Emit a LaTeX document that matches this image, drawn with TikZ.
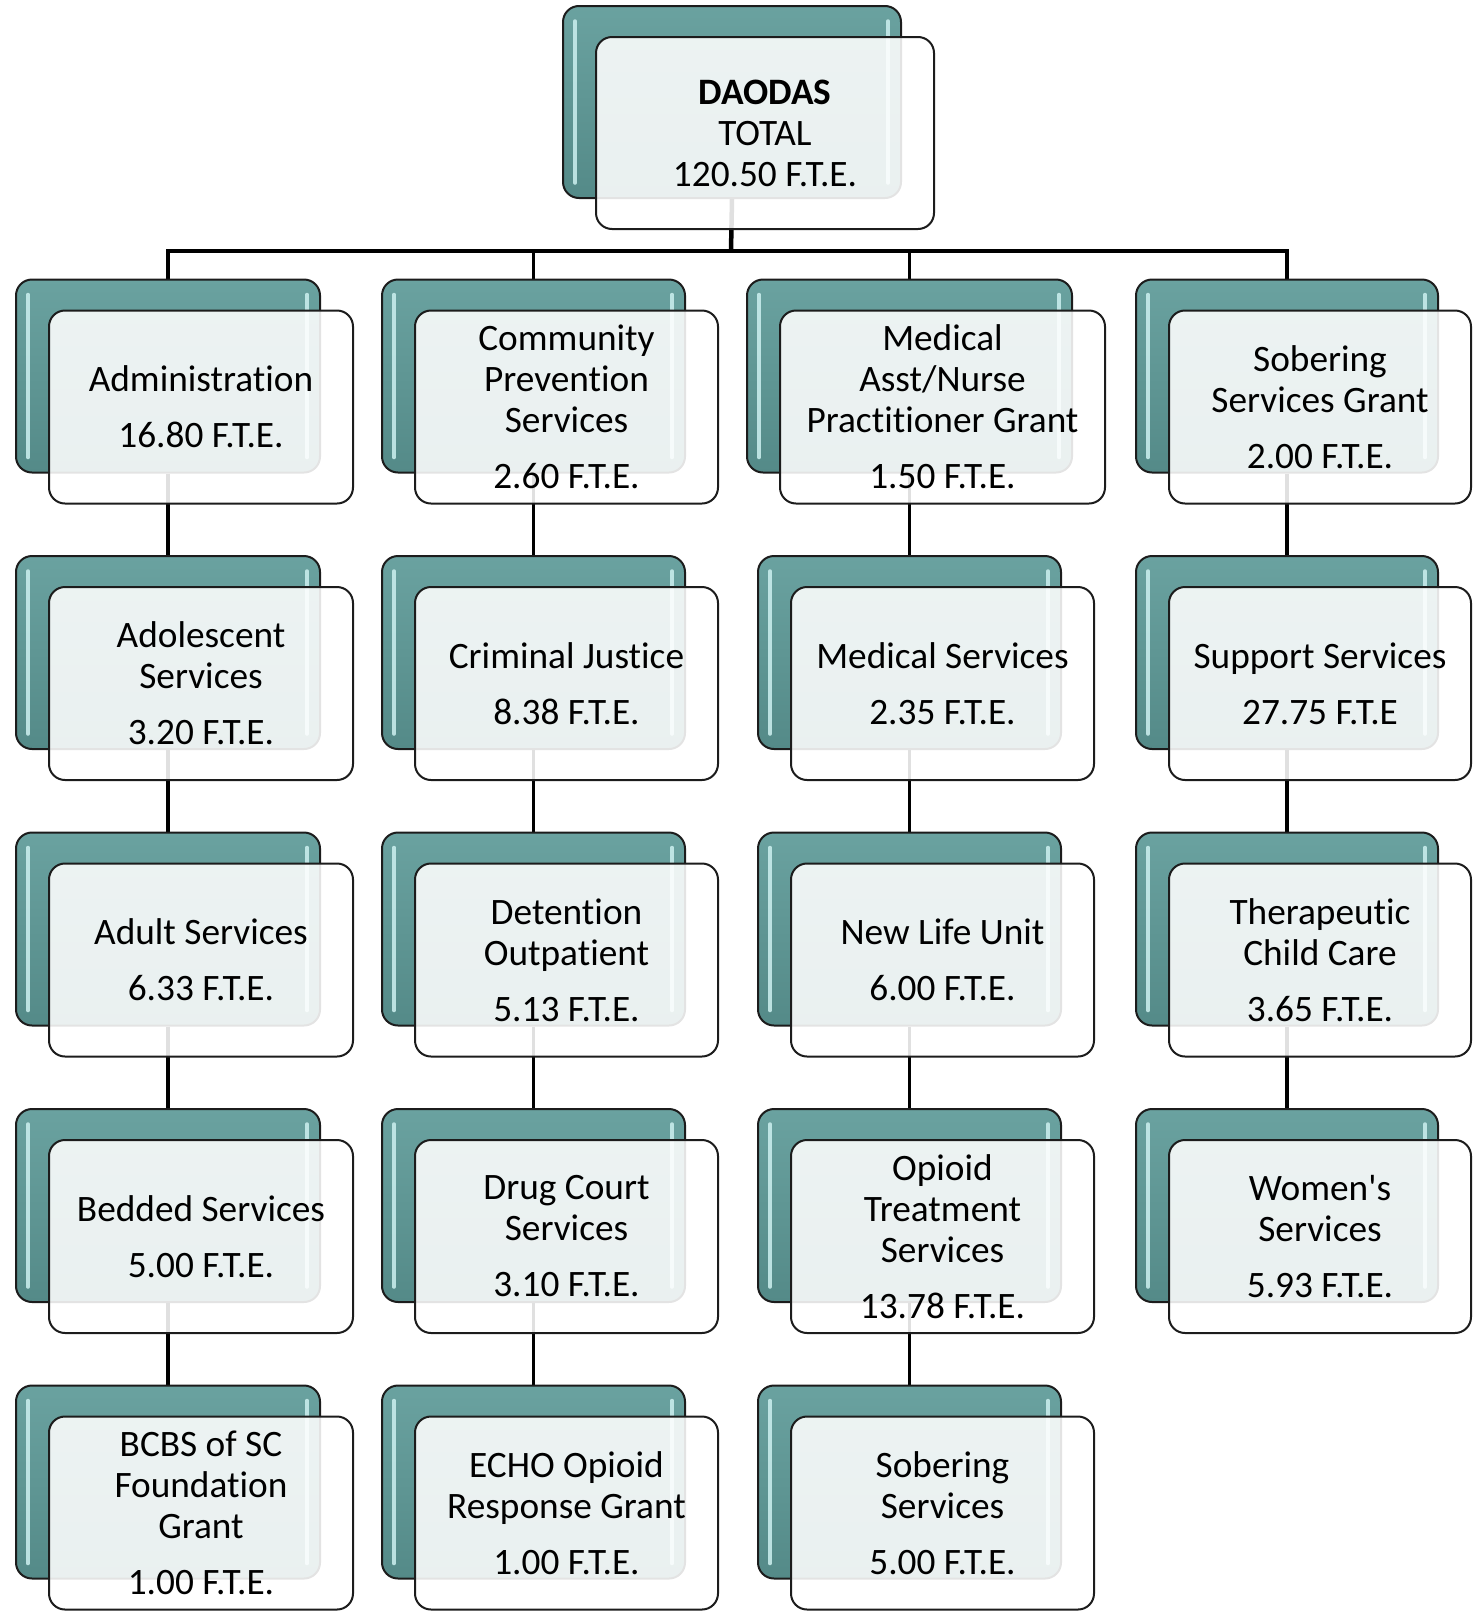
\documentclass[tikz,border=0pt]{standalone}
\usepackage{fontspec}
\newfontfamily\carl{Carlito}[Ligatures=NoCommon]
\usetikzlibrary{backgrounds}
\definecolor{tealA}{RGB}{106,162,160}
\definecolor{tealB}{RGB}{84,138,136}
\definecolor{edgec}{RGB}{28,28,28}
\definecolor{hlc}{RGB}{205,240,240}
\tikzset{
  backbox/.style={draw=edgec, line width=2pt, rounded corners=16pt,
    top color=tealA, bottom color=tealB, inner sep=0pt, anchor=north west,
    path picture={
      \draw[hlc, line width=3.5pt, line cap=round, opacity=0.85]
        ([xshift=12pt,yshift=-15pt]path picture bounding box.north west) --
        ([xshift=12pt,yshift=15pt]path picture bounding box.south west);
      \draw[hlc, line width=3.5pt, line cap=round, opacity=0.85]
        ([xshift=-13pt,yshift=-15pt]path picture bounding box.north east) --
        ([xshift=-13pt,yshift=15pt]path picture bounding box.south east);
    }},
  frontbox/.style={draw=edgec, line width=2pt, rounded corners=16pt,
    fill=white, fill opacity=0.88, text opacity=1, inner sep=0pt,
    anchor=north west, align=center,
    font=\carl\fontsize{37.3}{41}\selectfont},
  conn/.style={draw=black, line width=3.5pt}
}
\newcommand\orgbx[6]{%
  \node[backbox, minimum width=#4pt, minimum height=#5pt] (#1b) at (#2,#3) {};
  \node[frontbox, minimum width=#4pt, minimum height=#5pt] (#1)
     at ([xshift=33pt,yshift=-31pt]#1b.north west) {#6};
}
\begin{document}
\begin{tikzpicture}[x=1pt,y=-1pt]
\useasboundingbox (0,0) rectangle (1477,1612);
% top
\orgbx{T}{562}{5}{338}{192}{\textbf{DAODAS}\\TOTAL\\120.50 F.T.E.}
% column 1
\orgbx{A1}{15}{278.5}{304}{193}{Administration\\[15pt]16.80 F.T.E.}
\orgbx{A2}{15}{555}{304}{193}{Adolescent\\Services\\[15pt]3.20 F.T.E.}
\orgbx{A3}{15}{831.5}{304}{193}{Adult Services\\[15pt]6.33 F.T.E.}
\orgbx{A4}{15}{1108}{304}{193}{Bedded Services\\[15pt]5.00 F.T.E.}
\orgbx{A5}{15}{1384.5}{304}{193}{BCBS of SC\\Foundation\\Grant\\[15pt]1.00 F.T.E.}
% column 2
\orgbx{B1}{381}{278.5}{303}{193}{Community\\Prevention\\Services\\[15pt]2.60 F.T.E.}
\orgbx{B2}{381}{555}{303}{193}{Criminal Justice\\[15pt]8.38 F.T.E.}
\orgbx{B3}{381}{831.5}{303}{193}{Detention\\Outpatient\\[15pt]5.13 F.T.E.}
\orgbx{B4}{381}{1108}{303}{193}{Drug Court\\Services\\[15pt]3.10 F.T.E.}
\orgbx{B5}{381}{1384.5}{303}{193}{ECHO Opioid\\Response Grant\\[15pt]1.00 F.T.E.}
% column 3
\orgbx{C1}{746}{278.5}{325}{193}{Medical\\Asst/Nurse\\Practitioner Grant\\[15pt]1.50 F.T.E.}
\orgbx{C2}{757}{555}{303}{193}{Medical Services\\[15pt]2.35 F.T.E.}
\orgbx{C3}{757}{831.5}{303}{193}{New Life Unit\\[15pt]6.00 F.T.E.}
\orgbx{C4}{757}{1108}{303}{193}{Opioid\\Treatment\\Services\\[15pt]13.78 F.T.E.}
\orgbx{C5}{757}{1384.5}{303}{193}{Sobering\\Services\\[15pt]5.00 F.T.E.}
% column 4
\orgbx{D1}{1135}{278.5}{302}{193}{Sobering\\Services Grant\\[15pt]2.00 F.T.E.}
\orgbx{D2}{1135}{555}{302}{193}{Support Services\\[15pt]27.75 F.T.E}
\orgbx{D3}{1135}{831.5}{302}{193}{Therapeutic\\Child Care\\[15pt]3.65 F.T.E.}
\orgbx{D4}{1135}{1108}{302}{193}{Women's\\Services\\[15pt]5.93 F.T.E.}
% connectors
\begin{scope}[on background layer]
\coordinate (bar) at (731,251);
\draw[conn, line width=4.5pt] (Tb.south) -- (bar);
\draw[conn] (A1b.north) |- (bar) -| (D1b.north);
\draw[conn] (bar) -| (B1b.north);
\draw[conn] (bar) -| (C1b.north);
\foreach \c in {A,B,C}{
  \foreach \r [evaluate=\r as \n using int(\r+1)] in {1,2,3,4}{
    \draw[conn] (\c\r b.south) -- (\c\n b.north);
  }
}
\foreach \r [evaluate=\r as \n using int(\r+1)] in {1,2,3}{
  \draw[conn] (D\r b.south) -- (D\n b.north);
}
\end{scope}
\end{tikzpicture}
\end{document}
